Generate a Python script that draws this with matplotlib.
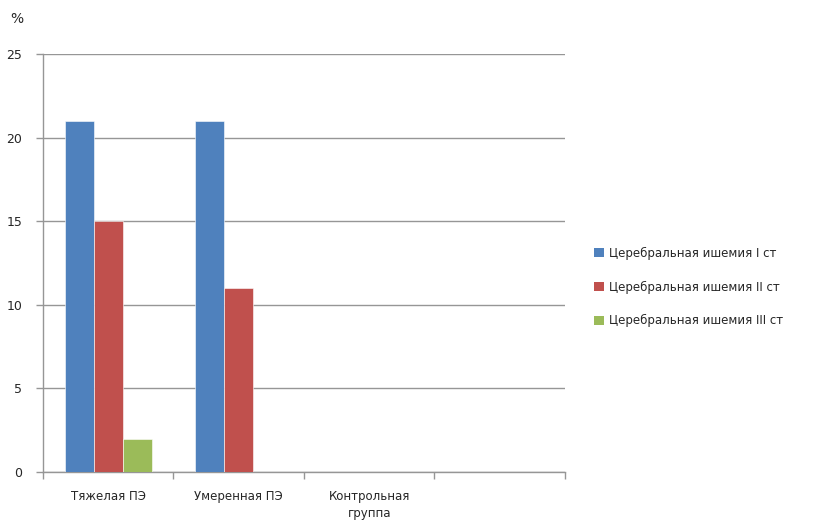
import numpy as np
import matplotlib
matplotlib.use("Agg")
import matplotlib.pyplot as plt
from matplotlib.patches import Patch

plt.rcParams['font.family'] = ['DejaVu Sans']

categories = ["Тяжелая ПЭ", "Умеренная ПЭ", "Контрольная\nгруппа", ""]
series_names = ["Церебральная ишемия I ст",
                "Церебральная ишемия II ст",
                "Церебральная ишемия III ст"]
stage1 = [21, 21, 0, 0]
stage2 = [15, 11, 0, 0]
stage3 = [2, 0, 0, 0]
colors = ["#4F81BD", "#C0504D", "#9BBB59"]

fig = plt.figure(figsize=(8.13, 5.22), dpi=100)
ax = fig.add_axes([0.0529, 0.0958, 0.642, 0.8008])

x = np.arange(len(categories))
w = 0.667 / 3
for i, vals in enumerate([stage1, stage2, stage3]):
    ax.bar(x + (i - 1) * w, vals, w, color=colors[i], edgecolor="white",
           linewidth=0.4, zorder=3)

ax.set_xlim(-0.5, len(categories) - 0.5)
ax.set_ylim(0, 25)
ax.set_yticks(range(0, 26, 5))
ax.yaxis.grid(True, color="#969696", linewidth=1, zorder=0)
ax.set_axisbelow(True)

ax.set_xticks(x)
ax.set_xticklabels(categories, fontsize=8.5, color="#262626", linespacing=1.35)
ax.set_xticks(np.arange(-0.5, len(categories)), minor=True)
ax.tick_params(axis="x", which="major", length=0, pad=13)
ax.tick_params(axis="x", which="minor", length=5, color="#969696", width=1)
ax.tick_params(axis="y", length=5, color="#969696", width=1, labelsize=9,
               pad=10)
for lab in ax.get_yticklabels():
    lab.set_color("#262626")

for side in ["top", "right"]:
    ax.spines[side].set_visible(False)
for side in ["left", "bottom"]:
    ax.spines[side].set_color("#969696")
    ax.spines[side].set_linewidth(1)

fig.text(0.013, 0.963, "%", fontsize=10, color="#262626", va="center")

handles = [Patch(facecolor=c, edgecolor="none") for c in colors]
fig.legend(handles, series_names, loc="center left",
           bbox_to_anchor=(0.718, 0.45), frameon=False, fontsize=8.5,
           handlelength=0.8, handleheight=0.8, handletextpad=0.4,
           labelspacing=1.75, labelcolor="#262626")

fig.savefig("out.png", dpi=100)
